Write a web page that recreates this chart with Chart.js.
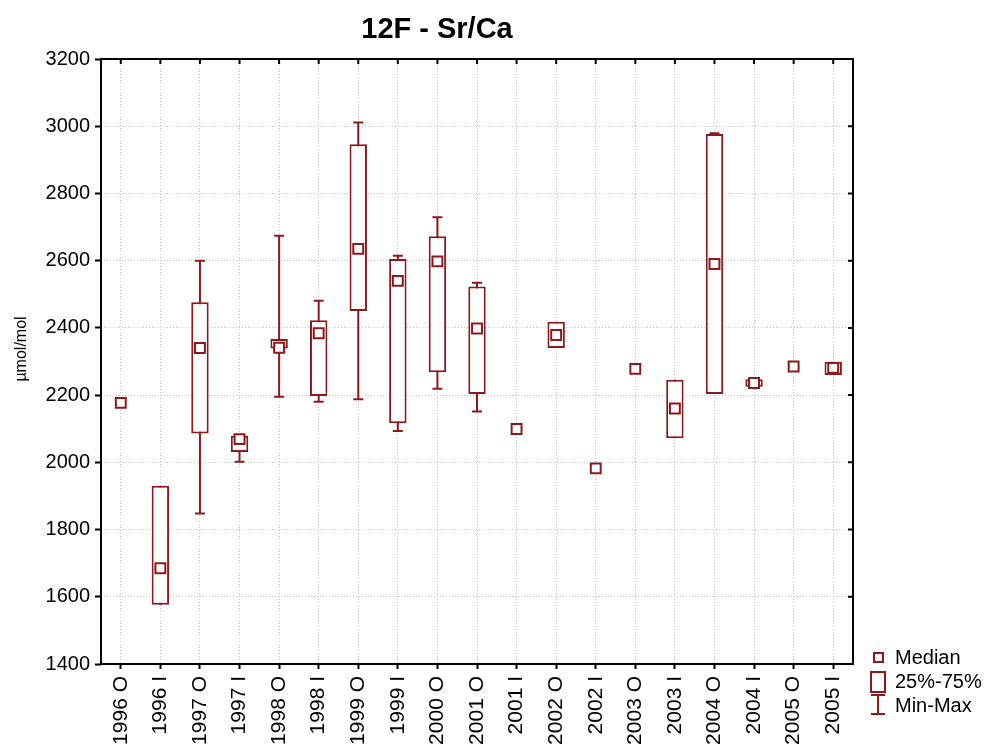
<!DOCTYPE html>
<html>
<head>
<meta charset="utf-8">
<script src="https://cdn.jsdelivr.net/npm/chart.js@4/dist/chart.umd.min.js"></script>
<style>
  body { margin: 0; background: #fff; }
  #wrap { width: 989px; height: 745px; }
</style>
</head>
<body>
<div id="wrap"><canvas id="boxChart" width="989" height="745"></canvas></div>
<script>
// categories (year + season)
var labels = ['1996 O', '1996 I', '1997 O', '1997 I', '1998 O', '1998 I', '1999 O', '1999 I', '2000 O',
  '2001 O', '2001 I', '2002 O', '2002 I', '2003 O', '2003 I', '2004 O', '2004 I', '2005 O', '2005 I'];

// Sr/Ca values, umol/mol
var medians = [2177, 1685, 2340, 2069, 2341, 2384, 2635, 2540, 2598, 2398, 2099, 2379, 1982, 2278, 2160, 2590, 2236, 2285, 2281];
var q1 = [null, 1576, 2086, 2031, 2339, 2197, 2450, 2116, 2268, 2203, null, 2340, null, null, 2072, 2203, 2225, null, 2260];
var q3 = [null, 1930, 2476, 2079, 2367, 2423, 2946, 2605, 2673, 2523, null, 2418, null, null, 2246, 2977, 2247, null, 2299];
var mins = [null, 1576, 1848, 2002, 2195, 2180, 2188, 2093, 2219, 2151, null, 2340, null, null, 2072, 2203, 2225, null, 2260];
var maxs = [null, 1930, 2600, 2079, 2674, 2481, 3011, 2615, 2729, 2534, null, 2418, null, null, 2246, 2979, 2247, null, 2299];

var yTicks = [1400, 1600, 1800, 2000, 2200, 2400, 2600, 2800, 3000, 3200];

var RED = '#8c1a1a';
var FONT = '"Liberation Sans", Arial, sans-serif';

var boxes = q1.map(function (v, i) { return v === null ? null : [v, q3[i]]; });

// whiskers go behind the boxes
var whiskerPlugin = {
  id: 'whiskers',
  beforeDatasetsDraw: function (chart) {
    var c = chart.ctx, xs = chart.scales.x, ys = chart.scales.y;
    c.save();
    c.strokeStyle = RED;
    c.lineWidth = 2;
    mins.forEach(function (mn, i) {
      if (mn === null) return;
      var x = xs.getPixelForValue(i);
      var y0 = ys.getPixelForValue(mn), y1 = ys.getPixelForValue(maxs[i]);
      c.beginPath();
      c.moveTo(x, y0); c.lineTo(x, y1);
      if (mn < q1[i]) { c.moveTo(x - 5, y0); c.lineTo(x + 5, y0); }
      if (maxs[i] > q3[i]) { c.moveTo(x - 5, y1); c.lineTo(x + 5, y1); }
      c.stroke();
    });
    c.restore();
  }
};

// frame, inner ticks, title, y label, legend
var decoPlugin = {
  id: 'deco',
  afterDraw: function (chart) {
    var c = chart.ctx, a = chart.chartArea, xs = chart.scales.x, ys = chart.scales.y;
    c.save();
    c.strokeStyle = '#000';
    c.lineWidth = 2;
    c.strokeRect(a.left, a.top, a.right - a.left, a.bottom - a.top);
    c.beginPath();
    xs.ticks.forEach(function (t, i) {
      var x = xs.getPixelForTick(i);
      c.moveTo(x, a.top); c.lineTo(x, a.top + 5);
    });
    ys.ticks.forEach(function (t, i) {
      var y = ys.getPixelForTick(i);
      c.moveTo(a.right, y); c.lineTo(a.right - 5, y);
    });
    c.stroke();

    c.fillStyle = '#000';
    c.font = 'bold 29px ' + FONT;
    c.textAlign = 'center';
    c.textBaseline = 'alphabetic';
    c.fillText('12F - Sr/Ca', 437, 38);

    c.save();
    c.translate(22, 349);
    c.rotate(-Math.PI / 2);
    c.font = '16px ' + FONT;
    c.textBaseline = 'middle';
    c.fillText('µmol/mol', 0, 0);
    c.restore();

    // legend
    var lx = a.right + 25;
    c.strokeStyle = RED;
    c.lineWidth = 2;
    c.strokeRect(lx - 4, 653, 9, 9);
    c.strokeRect(lx - 7, 672, 14, 20);
    c.beginPath();
    c.moveTo(lx, 695); c.lineTo(lx, 714);
    c.moveTo(lx - 7, 695); c.lineTo(lx + 7, 695);
    c.moveTo(lx - 7, 714); c.lineTo(lx + 7, 714);
    c.stroke();
    c.fillStyle = '#000';
    c.font = '20px ' + FONT;
    c.textAlign = 'left';
    c.textBaseline = 'middle';
    c.fillText('Median', lx + 17, 658);
    c.fillText('25%-75%', lx + 17, 682);
    c.fillText('Min-Max', lx + 17, 706);
    c.restore();
  }
};

var ctx = document.getElementById('boxChart').getContext('2d');

var boxChart = new Chart(ctx, {
  type: 'bar',
  data: {
    labels: labels,
    datasets: [{
      type: 'line',
      label: 'Median',
      data: medians,
      showLine: false,
      pointStyle: 'rect',
      pointRadius: 7,
      pointBorderWidth: 2,
      pointBorderColor: RED,
      pointBackgroundColor: '#fff',
      order: 0
    }, {
      label: '25%-75%',
      data: boxes,
      backgroundColor: '#fff',
      borderColor: RED,
      borderWidth: 2,
      borderSkipped: false,
      categoryPercentage: 1,
      barPercentage: 0.44,
      order: 1
    }]
  },
  options: {
    responsive: false,
    animation: false,
    layout: { padding: { top: 59, right: 136, left: 0, bottom: 0 } },
    plugins: {
      legend: { display: false },
      title: { display: false },
      tooltip: { enabled: false }
    },
    scales: {
      x: {
        offset: true,
        grid: {
          offset: false,
          color: '#c8c8c8',
          lineWidth: 1,
          tickColor: '#000',
          tickLength: 5,
          tickWidth: 2,
          tickBorderDash: []
        },
        border: { display: false, dash: [1, 2] },
        ticks: {
          color: '#000',
          font: { family: FONT, size: 21 },
          minRotation: 90,
          maxRotation: 90,
          padding: 7,
          autoSkip: false
        },
        afterFit: function (axis) { axis.height = 81; }
      },
      y: {
        min: 1400,
        max: 3200,
        afterBuildTicks: function (axis) {
          axis.ticks = yTicks.map(function (v) { return { value: v }; });
        },
        grid: {
          color: '#c8c8c8',
          lineWidth: 1,
          tickColor: '#000',
          tickLength: 6,
          tickWidth: 2,
          tickBorderDash: []
        },
        border: { display: false, dash: [1, 2] },
        ticks: {
          color: '#000',
          font: { family: FONT, size: 20 },
          padding: 5,
          callback: function (v) { return String(v); }
        },
        afterFit: function (axis) { axis.width = 101; }
      }
    }
  },
  plugins: [whiskerPlugin, decoPlugin]
});
</script>
</body>
</html>
